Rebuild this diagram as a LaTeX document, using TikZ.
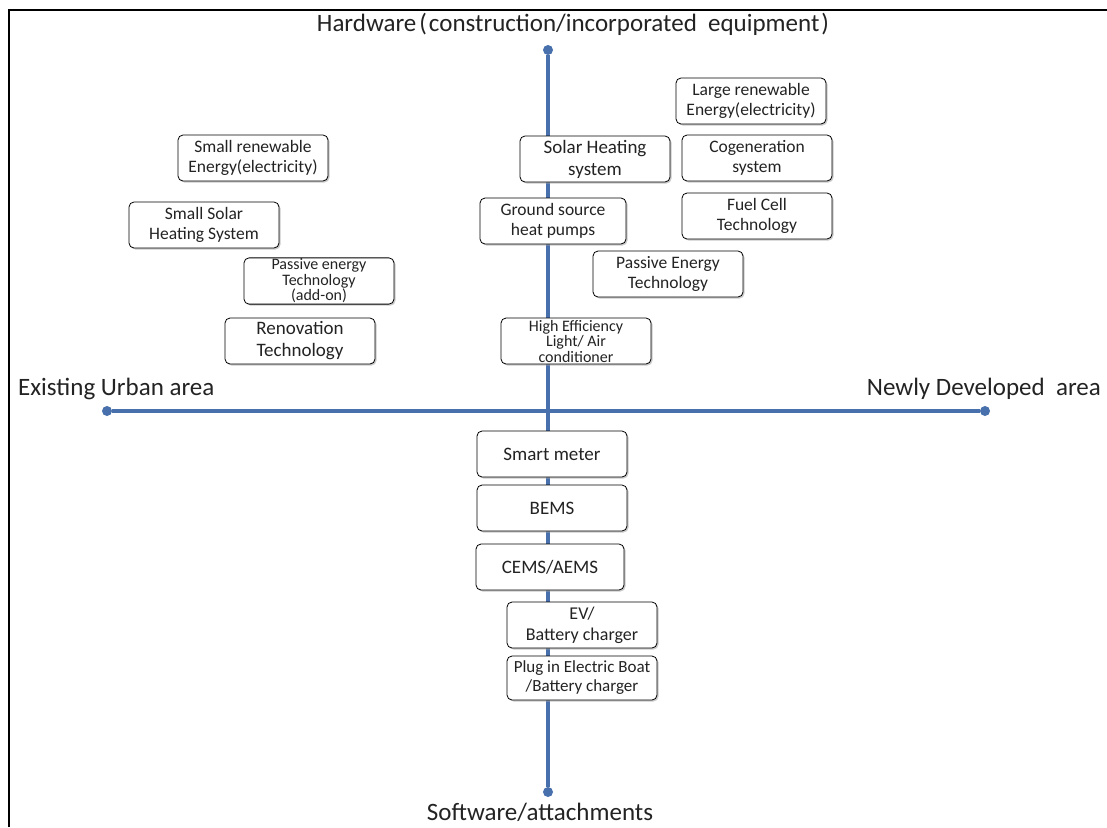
\documentclass[tikz,border=0pt]{standalone}
\usepackage{fontspec}
\setmainfont{Carlito}
\usetikzlibrary{shadows}
\definecolor{axisblue}{RGB}{72,112,172}
\definecolor{txt}{RGB}{35,35,35}
\tikzset{
  box/.style={draw=black, line width=0.8pt, rounded corners=5pt, fill=white,
    drop shadow={shadow xshift=1.5pt, shadow yshift=-1.5pt, fill=black!35, opacity=0.6},
    minimum width=150pt, minimum height=46pt, inner sep=1pt, align=center,
    text=txt, font=\fontsize{17.5}{20.5}\selectfont},
  big/.style={font=\fontsize{19}{22}\selectfont},
  tight/.style={font=\fontsize{16}{15.5}\selectfont},
  axis/.style={draw=axisblue, line width=3.5pt},
  dot/.style={circle, fill=axisblue, inner sep=0pt, minimum size=10pt},
  lab/.style={text=txt, font=\fontsize{25}{28}\selectfont, inner sep=0pt}
}
\begin{document}
\begin{tikzpicture}[x=1pt,y=-1pt]
\useasboundingbox (0,0) rectangle (1107,827);
\fill[white] (0,0) rectangle (1107,827);
\draw[line width=1.6pt] (9,827) -- (9,10) -- (1107,10);
% axes
\node[dot] (top) at (548,50) {};
\node[dot] (bot) at (548,792) {};
\node[dot] (lft) at (107,411) {};
\node[dot] (rgt) at (985,411) {};
\draw[axis] (top) -- (bot);
\draw[axis] (lft) -- (rgt);
% labels
\node[lab] (thw) at (573,24) {Hardware\hspace{3pt}(\hspace{2pt}construction/incorporated\ \ equipment\hspace{2pt})};
\node[lab, anchor=west] (teu) at (18,389) {Existing Urban area};
\node[lab, anchor=east] (tnd) at (1101,389) {Newly Developed\ \ area};
\node[lab] (tsw) at (540,812) {Software/attachments};
% left quadrant
\node[box] (b1) at (253,158) {Small renewable\\Energy(electricity)};
\node[box] (b2) at (204,225) {Small Solar\\Heating System};
\node[box, tight] (b3) at (319,281) {Passive energy\\Technology\\(add-on)};
\node[box, big] (b4) at (300,341) {Renovation\\Technology};
% center/right upper
\node[box, big] (b5) at (595,159) {Solar Heating\\system};
\node[box, minimum width=146pt] (b6) at (553,221) {Ground source\\heat pumps};
\node[box] (b7) at (668,274) {Passive Energy\\Technology};
\node[box, tight] (b8) at (576,341) {High Efficiency\\Light/ Air\\conditioner};
\node[box] (b9) at (751,101) {Large renewable\\Energy(electricity)};
\node[box] (b10) at (757,158) {Cogeneration\\system};
\node[box] (b11) at (757,216) {Fuel Cell\\Technology};
% lower
\node[box, big, minimum width=150pt] (b12) at (552,454) {Smart meter};
\node[box, big] (b13) at (552,508) {BEMS};
\node[box, big, minimum width=148pt] (b14) at (550,567) {CEMS/AEMS};
\node[box, font=\fontsize{18}{21}\selectfont] (b15) at (582,625) {EV/\\Battery charger};
\node[box, font=\fontsize{17}{19}\selectfont, minimum height=44pt] (b16) at (582,678) {Plug in Electric Boat\\/Battery charger};
\end{tikzpicture}
\end{document}
